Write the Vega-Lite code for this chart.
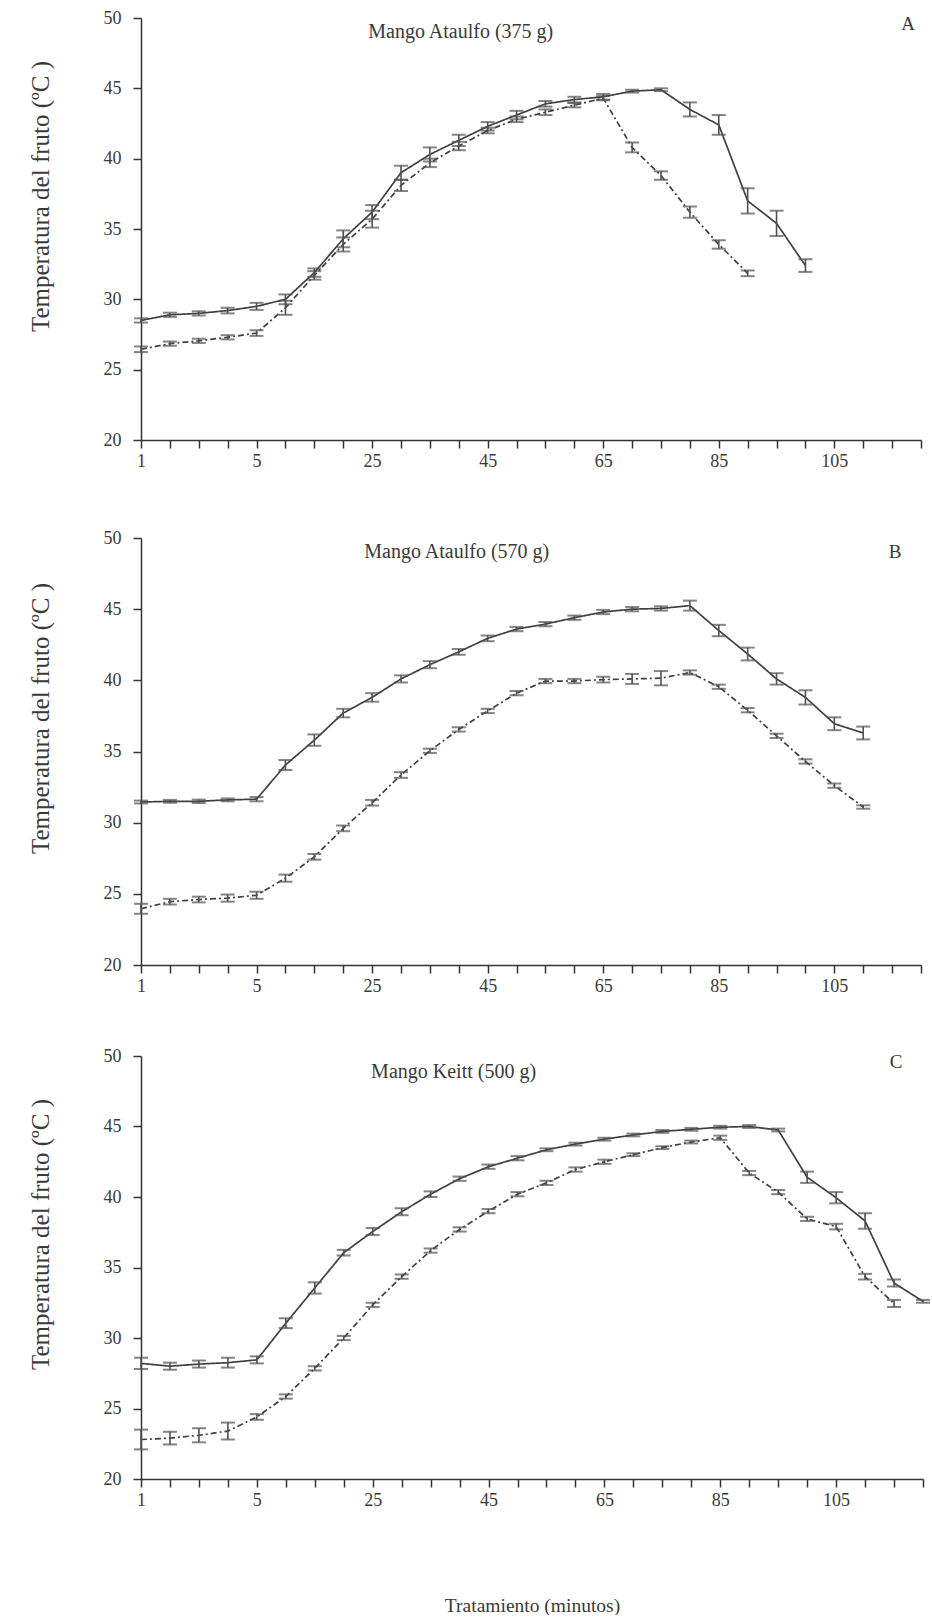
{
  "$schema": "https://vega.github.io/schema/vega-lite/v6.json",
  "padding": {"left": 28, "top": 9, "right": 5, "bottom": 0},
  "datasets": {
    "A": [
      {"s": "solid", "t": 1, "v": 28.5, "e": 0.15}, {"s": "solid", "t": 2, "v": 28.9, "e": 0.15}, {"s": "solid", "t": 3, "v": 29.0, "e": 0.15}, {"s": "solid", "t": 4, "v": 29.2, "e": 0.2}, {"s": "solid", "t": 5, "v": 29.5, "e": 0.25},
      {"s": "solid", "t": 10, "v": 30.0, "e": 0.35}, {"s": "solid", "t": 15, "v": 31.9, "e": 0.3}, {"s": "solid", "t": 20, "v": 34.3, "e": 0.6}, {"s": "solid", "t": 25, "v": 36.2, "e": 0.5}, {"s": "solid", "t": 30, "v": 39.0, "e": 0.5},
      {"s": "solid", "t": 35, "v": 40.3, "e": 0.5}, {"s": "solid", "t": 40, "v": 41.3, "e": 0.4}, {"s": "solid", "t": 45, "v": 42.3, "e": 0.3}, {"s": "solid", "t": 50, "v": 43.1, "e": 0.3}, {"s": "solid", "t": 55, "v": 43.9, "e": 0.2},
      {"s": "solid", "t": 60, "v": 44.2, "e": 0.2}, {"s": "solid", "t": 65, "v": 44.4, "e": 0.2}, {"s": "solid", "t": 70, "v": 44.8, "e": 0.1}, {"s": "solid", "t": 75, "v": 44.9, "e": 0.1}, {"s": "solid", "t": 80, "v": 43.5, "e": 0.5},
      {"s": "solid", "t": 85, "v": 42.4, "e": 0.7}, {"s": "solid", "t": 90, "v": 37.0, "e": 0.9}, {"s": "solid", "t": 95, "v": 35.4, "e": 0.9}, {"s": "solid", "t": 100, "v": 32.4, "e": 0.45},
      {"s": "dashed", "t": 1, "v": 26.45, "e": 0.2}, {"s": "dashed", "t": 2, "v": 26.85, "e": 0.15}, {"s": "dashed", "t": 3, "v": 27.05, "e": 0.15}, {"s": "dashed", "t": 4, "v": 27.3, "e": 0.15}, {"s": "dashed", "t": 5, "v": 27.6, "e": 0.2},
      {"s": "dashed", "t": 10, "v": 29.4, "e": 0.5}, {"s": "dashed", "t": 15, "v": 31.7, "e": 0.3}, {"s": "dashed", "t": 20, "v": 33.9, "e": 0.5}, {"s": "dashed", "t": 25, "v": 35.7, "e": 0.6}, {"s": "dashed", "t": 30, "v": 38.1, "e": 0.4},
      {"s": "dashed", "t": 35, "v": 39.7, "e": 0.3}, {"s": "dashed", "t": 40, "v": 40.9, "e": 0.3}, {"s": "dashed", "t": 45, "v": 42.0, "e": 0.2}, {"s": "dashed", "t": 50, "v": 42.8, "e": 0.2}, {"s": "dashed", "t": 55, "v": 43.3, "e": 0.2},
      {"s": "dashed", "t": 60, "v": 43.8, "e": 0.15}, {"s": "dashed", "t": 65, "v": 44.3, "e": 0.15}, {"s": "dashed", "t": 70, "v": 40.8, "e": 0.35}, {"s": "dashed", "t": 75, "v": 38.8, "e": 0.3}, {"s": "dashed", "t": 80, "v": 36.2, "e": 0.4},
      {"s": "dashed", "t": 85, "v": 33.9, "e": 0.3}, {"s": "dashed", "t": 90, "v": 31.85, "e": 0.2}
    ],
    "B": [
      {"s": "solid", "t": 1, "v": 31.45, "e": 0.1}, {"s": "solid", "t": 2, "v": 31.5, "e": 0.1}, {"s": "solid", "t": 3, "v": 31.5, "e": 0.12}, {"s": "solid", "t": 4, "v": 31.6, "e": 0.1}, {"s": "solid", "t": 5, "v": 31.65, "e": 0.15},
      {"s": "solid", "t": 10, "v": 34.05, "e": 0.35}, {"s": "solid", "t": 15, "v": 35.8, "e": 0.4}, {"s": "solid", "t": 20, "v": 37.7, "e": 0.3}, {"s": "solid", "t": 25, "v": 38.8, "e": 0.3}, {"s": "solid", "t": 30, "v": 40.1, "e": 0.25},
      {"s": "solid", "t": 35, "v": 41.1, "e": 0.25}, {"s": "solid", "t": 40, "v": 42.0, "e": 0.2}, {"s": "solid", "t": 45, "v": 42.95, "e": 0.2}, {"s": "solid", "t": 50, "v": 43.6, "e": 0.15}, {"s": "solid", "t": 55, "v": 43.95, "e": 0.15},
      {"s": "solid", "t": 60, "v": 44.4, "e": 0.15}, {"s": "solid", "t": 65, "v": 44.8, "e": 0.15}, {"s": "solid", "t": 70, "v": 45.0, "e": 0.15}, {"s": "solid", "t": 75, "v": 45.05, "e": 0.15}, {"s": "solid", "t": 80, "v": 45.25, "e": 0.35},
      {"s": "solid", "t": 85, "v": 43.5, "e": 0.4}, {"s": "solid", "t": 90, "v": 41.85, "e": 0.45}, {"s": "solid", "t": 95, "v": 40.1, "e": 0.4}, {"s": "solid", "t": 100, "v": 38.8, "e": 0.5}, {"s": "solid", "t": 105, "v": 36.95, "e": 0.45},
      {"s": "solid", "t": 110, "v": 36.3, "e": 0.45},
      {"s": "dashed", "t": 1, "v": 23.95, "e": 0.35}, {"s": "dashed", "t": 2, "v": 24.45, "e": 0.2}, {"s": "dashed", "t": 3, "v": 24.6, "e": 0.2}, {"s": "dashed", "t": 4, "v": 24.7, "e": 0.25}, {"s": "dashed", "t": 5, "v": 24.9, "e": 0.25},
      {"s": "dashed", "t": 10, "v": 26.1, "e": 0.25}, {"s": "dashed", "t": 15, "v": 27.6, "e": 0.2}, {"s": "dashed", "t": 20, "v": 29.6, "e": 0.2}, {"s": "dashed", "t": 25, "v": 31.4, "e": 0.2}, {"s": "dashed", "t": 30, "v": 33.35, "e": 0.2},
      {"s": "dashed", "t": 35, "v": 35.05, "e": 0.15}, {"s": "dashed", "t": 40, "v": 36.55, "e": 0.15}, {"s": "dashed", "t": 45, "v": 37.85, "e": 0.15}, {"s": "dashed", "t": 50, "v": 39.1, "e": 0.15}, {"s": "dashed", "t": 55, "v": 39.95, "e": 0.15},
      {"s": "dashed", "t": 60, "v": 39.95, "e": 0.15}, {"s": "dashed", "t": 65, "v": 40.05, "e": 0.2}, {"s": "dashed", "t": 70, "v": 40.1, "e": 0.35}, {"s": "dashed", "t": 75, "v": 40.15, "e": 0.5}, {"s": "dashed", "t": 80, "v": 40.55, "e": 0.15},
      {"s": "dashed", "t": 85, "v": 39.55, "e": 0.15}, {"s": "dashed", "t": 90, "v": 37.9, "e": 0.15}, {"s": "dashed", "t": 95, "v": 36.1, "e": 0.15}, {"s": "dashed", "t": 100, "v": 34.3, "e": 0.15}, {"s": "dashed", "t": 105, "v": 32.6, "e": 0.15},
      {"s": "dashed", "t": 110, "v": 31.1, "e": 0.12}
    ],
    "C": [
      {"s": "solid", "t": 1, "v": 28.2, "e": 0.4}, {"s": "solid", "t": 2, "v": 28.0, "e": 0.25}, {"s": "solid", "t": 3, "v": 28.15, "e": 0.25}, {"s": "solid", "t": 4, "v": 28.25, "e": 0.35}, {"s": "solid", "t": 5, "v": 28.45, "e": 0.25},
      {"s": "solid", "t": 10, "v": 31.05, "e": 0.35}, {"s": "solid", "t": 15, "v": 33.55, "e": 0.4}, {"s": "solid", "t": 20, "v": 36.05, "e": 0.2}, {"s": "solid", "t": 25, "v": 37.55, "e": 0.25}, {"s": "solid", "t": 30, "v": 38.95, "e": 0.25},
      {"s": "solid", "t": 35, "v": 40.2, "e": 0.2}, {"s": "solid", "t": 40, "v": 41.3, "e": 0.15}, {"s": "solid", "t": 45, "v": 42.15, "e": 0.15}, {"s": "solid", "t": 50, "v": 42.75, "e": 0.15}, {"s": "solid", "t": 55, "v": 43.35, "e": 0.1},
      {"s": "solid", "t": 60, "v": 43.75, "e": 0.1}, {"s": "solid", "t": 65, "v": 44.1, "e": 0.1}, {"s": "solid", "t": 70, "v": 44.4, "e": 0.1}, {"s": "solid", "t": 75, "v": 44.65, "e": 0.1}, {"s": "solid", "t": 80, "v": 44.8, "e": 0.1},
      {"s": "solid", "t": 85, "v": 44.95, "e": 0.1}, {"s": "solid", "t": 90, "v": 45.0, "e": 0.1}, {"s": "solid", "t": 95, "v": 44.75, "e": 0.1}, {"s": "solid", "t": 100, "v": 41.4, "e": 0.4}, {"s": "solid", "t": 105, "v": 39.95, "e": 0.4},
      {"s": "solid", "t": 110, "v": 38.3, "e": 0.55}, {"s": "solid", "t": 115, "v": 33.9, "e": 0.25}, {"s": "solid", "t": 120, "v": 32.6, "e": 0.1},
      {"s": "dashed", "t": 1, "v": 22.8, "e": 0.7}, {"s": "dashed", "t": 2, "v": 22.9, "e": 0.45}, {"s": "dashed", "t": 3, "v": 23.1, "e": 0.5}, {"s": "dashed", "t": 4, "v": 23.4, "e": 0.6}, {"s": "dashed", "t": 5, "v": 24.4, "e": 0.2},
      {"s": "dashed", "t": 10, "v": 25.85, "e": 0.15}, {"s": "dashed", "t": 15, "v": 27.85, "e": 0.15}, {"s": "dashed", "t": 20, "v": 30.0, "e": 0.15}, {"s": "dashed", "t": 25, "v": 32.35, "e": 0.15}, {"s": "dashed", "t": 30, "v": 34.35, "e": 0.15},
      {"s": "dashed", "t": 35, "v": 36.2, "e": 0.15}, {"s": "dashed", "t": 40, "v": 37.7, "e": 0.15}, {"s": "dashed", "t": 45, "v": 39.0, "e": 0.15}, {"s": "dashed", "t": 50, "v": 40.2, "e": 0.15}, {"s": "dashed", "t": 55, "v": 41.0, "e": 0.15},
      {"s": "dashed", "t": 60, "v": 41.95, "e": 0.15}, {"s": "dashed", "t": 65, "v": 42.5, "e": 0.15}, {"s": "dashed", "t": 70, "v": 43.0, "e": 0.1}, {"s": "dashed", "t": 75, "v": 43.5, "e": 0.1}, {"s": "dashed", "t": 80, "v": 43.9, "e": 0.1},
      {"s": "dashed", "t": 85, "v": 44.2, "e": 0.15}, {"s": "dashed", "t": 90, "v": 41.7, "e": 0.15}, {"s": "dashed", "t": 95, "v": 40.35, "e": 0.15}, {"s": "dashed", "t": 100, "v": 38.45, "e": 0.15}, {"s": "dashed", "t": 105, "v": 37.9, "e": 0.2},
      {"s": "dashed", "t": 110, "v": 34.35, "e": 0.2}, {"s": "dashed", "t": 115, "v": 32.45, "e": 0.25}
    ]
  },
  "spacing": 52,
  "vconcat": [
    {
      "spacing": 59,
      "vconcat": [
        {
          "width": 780, "height": 422,
          "data": {"name": "A"},
          "encoding": {
            "x": {"field": "t", "type": "ordinal", "scale": {"type": "point", "padding": 0, "domain": [1,2,3,4,5,10,15,20,25,30,35,40,45,50,55,60,65,70,75,80,85,90,95,100,105,110,115,120]},
                  "axis": {"title": null, "labelAngle": 0, "tickSize": 8, "labelPadding": 4, "labelOverlap": false, "labelExpr": "indexof([1,5,25,45,65,85,105], datum.value) >= 0 ? datum.label : ''"}},
            "y": {"field": "v", "type": "quantitative", "scale": {"domain": [20, 50], "nice": false, "zero": false},
                  "axis": {"title": "Temperatura del fruto (ºC )", "titleY": 178, "values": [20,25,30,35,40,45,50], "tickSize": 8, "labelPadding": 12, "titlePadding": 50}}
          },
          "layer": [
            {"mark": {"type": "line", "color": "#404040", "strokeWidth": 1.7},
             "encoding": {"strokeDash": {"field": "s", "type": "nominal", "legend": null, "scale": {"domain": ["solid", "dashed"], "range": [[1, 0], [6, 3, 2, 3]]}}}},
            {"mark": {"type": "errorbar", "color": "#505050", "thickness": 1.6, "ticks": {"size": 14, "thickness": 2}},
             "encoding": {"y": {"field": "v", "type": "quantitative"}, "yError": {"field": "e"}, "detail": {"field": "s"}}},
            {"transform": [{"filter": "datum.t == 1 && datum.s == 'solid'"}],
             "mark": {"type": "text", "fontSize": 20, "fontWeight": "normal", "color": "#3a3a3a", "align": "center", "baseline": "middle", "dx": 2},
             "encoding": {"x": {"datum": 40, "type": "ordinal"}, "y": {"datum": 49.0, "type": "quantitative"}, "text": {"value": "Mango Ataulfo (375 g)"}}},
            {"transform": [{"filter": "datum.t == 1 && datum.s == 'solid'"}],
             "mark": {"type": "text", "fontSize": 19, "fontWeight": "normal", "color": "#3a3a3a", "align": "center", "baseline": "middle", "dx": 16},
             "encoding": {"x": {"datum": 115, "type": "ordinal"}, "y": {"datum": 49.6, "type": "quantitative"}, "text": {"value": "A"}}}
          ]
        },
        {
          "width": 780, "height": 427,
          "data": {"name": "B"},
          "encoding": {
            "x": {"field": "t", "type": "ordinal", "scale": {"type": "point", "padding": 0, "domain": [1,2,3,4,5,10,15,20,25,30,35,40,45,50,55,60,65,70,75,80,85,90,95,100,105,110,115,120]},
                  "axis": {"title": null, "labelAngle": 0, "tickSize": 8, "labelPadding": 4, "labelOverlap": false, "labelExpr": "indexof([1,5,25,45,65,85,105], datum.value) >= 0 ? datum.label : ''"}},
            "y": {"field": "v", "type": "quantitative", "scale": {"domain": [20, 50], "nice": false, "zero": false},
                  "axis": {"title": "Temperatura del fruto (ºC )", "titleY": 180, "values": [20,25,30,35,40,45,50], "tickSize": 8, "labelPadding": 12, "titlePadding": 50}}
          },
          "layer": [
            {"mark": {"type": "line", "color": "#404040", "strokeWidth": 1.7},
             "encoding": {"strokeDash": {"field": "s", "type": "nominal", "legend": null, "scale": {"domain": ["solid", "dashed"], "range": [[1, 0], [2, 5]]}}}},
            {"mark": {"type": "errorbar", "color": "#505050", "thickness": 1.6, "ticks": {"size": 14, "thickness": 2}},
             "encoding": {"y": {"field": "v", "type": "quantitative"}, "yError": {"field": "e"}, "detail": {"field": "s"}}},
            {"transform": [{"filter": "datum.t == 1 && datum.s == 'solid'"}],
             "mark": {"type": "text", "fontSize": 20, "fontWeight": "normal", "color": "#3a3a3a", "align": "center", "baseline": "middle", "dx": -2},
             "encoding": {"x": {"datum": 40, "type": "ordinal"}, "y": {"datum": 49.0, "type": "quantitative"}, "text": {"value": "Mango Ataulfo (570 g)"}}},
            {"transform": [{"filter": "datum.t == 1 && datum.s == 'solid'"}],
             "mark": {"type": "text", "fontSize": 19, "fontWeight": "normal", "color": "#3a3a3a", "align": "center", "baseline": "middle", "dx": 3},
             "encoding": {"x": {"datum": 115, "type": "ordinal"}, "y": {"datum": 49.0, "type": "quantitative"}, "text": {"value": "B"}}}
          ]
        }
      ]
    },
    {
      "width": 782, "height": 423,
      "data": {"name": "C"},
      "encoding": {
        "x": {"field": "t", "type": "ordinal", "scale": {"type": "point", "padding": 0, "domain": [1,2,3,4,5,10,15,20,25,30,35,40,45,50,55,60,65,70,75,80,85,90,95,100,105,110,115,120]},
              "axis": {"title": "Tratamiento (minutos)", "titleFontSize": 19.5, "titlePadding": 87, "labelAngle": 0, "tickSize": 8, "labelPadding": 4, "labelOverlap": false, "labelExpr": "indexof([1,5,25,45,65,85,105], datum.value) >= 0 ? datum.label : ''"}},
        "y": {"field": "v", "type": "quantitative", "scale": {"domain": [20, 50], "nice": false, "zero": false},
              "axis": {"title": "Temperatura del fruto (ºC )", "titleY": 178, "values": [20,25,30,35,40,45,50], "tickSize": 8, "labelPadding": 12, "titlePadding": 50}}
      },
      "layer": [
        {"mark": {"type": "line", "color": "#404040", "strokeWidth": 1.7},
         "encoding": {"strokeDash": {"field": "s", "type": "nominal", "legend": null, "scale": {"domain": ["solid", "dashed"], "range": [[1, 0], [6, 3, 2, 3]]}}}},
        {"mark": {"type": "errorbar", "color": "#505050", "thickness": 1.6, "ticks": {"size": 14, "thickness": 2}},
         "encoding": {"y": {"field": "v", "type": "quantitative"}, "yError": {"field": "e"}, "detail": {"field": "s"}}},
        {"transform": [{"filter": "datum.t == 1 && datum.s == 'solid'"}],
         "mark": {"type": "text", "fontSize": 20, "fontWeight": "normal", "color": "#3a3a3a", "align": "center", "baseline": "middle", "dx": -6},
         "encoding": {"x": {"datum": 40, "type": "ordinal"}, "y": {"datum": 48.9, "type": "quantitative"}, "text": {"value": "Mango Keitt (500 g)"}}},
        {"transform": [{"filter": "datum.t == 1 && datum.s == 'solid'"}],
         "mark": {"type": "text", "fontSize": 19, "fontWeight": "normal", "color": "#3a3a3a", "align": "center", "baseline": "middle", "dx": 2},
         "encoding": {"x": {"datum": 115, "type": "ordinal"}, "y": {"datum": 49.6, "type": "quantitative"}, "text": {"value": "C"}}}
      ]
    }
  ],
  "config": {
    "view": {"stroke": null},
    "axis": {"grid": false, "labelFont": "Liberation Serif", "titleFont": "Liberation Serif", "labelFontSize": 18, "titleFontSize": 25, "titleFontWeight": "normal", "labelColor": "#3a3a3a", "titleColor": "#3a3a3a", "domainColor": "#333", "tickColor": "#333", "domainWidth": 1.5, "tickWidth": 1.5},
    "text": {"font": "Liberation Serif"}
  }
}
